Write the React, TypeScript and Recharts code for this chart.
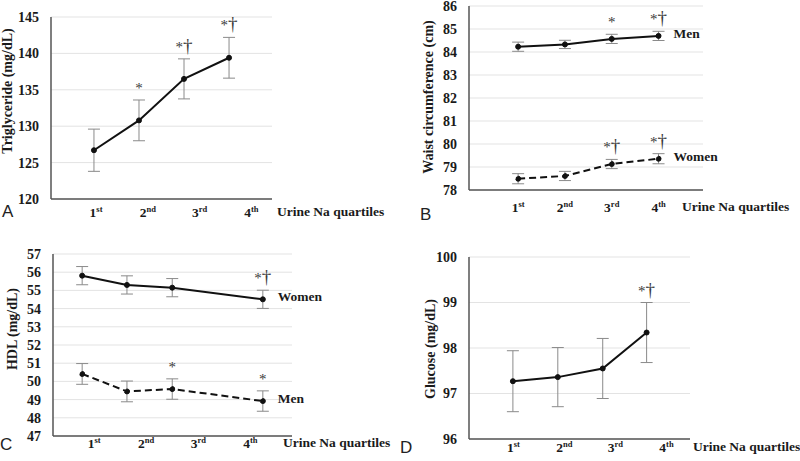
import React from "react";
import { CartesianGrid, ErrorBar, LabelList, Line, LineChart, XAxis, YAxis } from "recharts";

// quartile tick labels
const ordinals = ["1", "2", "3", "4"];
const suffixes = ["st", "nd", "rd", "th"];
const quartileTicks = [1, 2, 3, 4];

// A: triglyceride
const trigX = [0.96, 1.83, 2.7, 3.57];
const trigMean = [126.7, 130.8, 136.5, 139.4];
const trigErr = [2.9, 2.8, 2.75, 2.8];
const trigSig = ["", "*", "*†", "*†"];

// B: waist circumference
const waistX = [1, 2, 3, 4];
const waistMen = [84.23, 84.33, 84.57, 84.7];
const waistMenErr = [0.2, 0.18, 0.2, 0.2];
const waistMenSig = ["", "", "*", "*†"];
const waistWomen = [78.49, 78.61, 79.13, 79.36];
const waistWomenErr = [0.22, 0.2, 0.2, 0.22];
const waistWomenSig = ["", "", "*†", "*†"];

// C: HDL
const hdlX = [0.77, 1.63, 2.5, 4.24];
const hdlWomen = [55.81, 55.3, 55.15, 54.51];
const hdlWomenErr = [0.5, 0.5, 0.5, 0.5];
const hdlWomenSig = ["", "", "", "*†"];
const hdlMen = [50.41, 49.45, 49.58, 48.92];
const hdlMenErr = [0.57, 0.57, 0.56, 0.56];
const hdlMenSig = ["", "", "*", "*"];

// D: glucose
const gluX = [0.99, 1.87, 2.75, 3.61];
const gluMean = [97.27, 97.36, 97.55, 98.34];
const gluErr = [0.67, 0.65, 0.66, 0.66];
const gluSig = ["", "", "", "*†"];

const SERIF = "'Liberation Serif', 'Times New Roman', serif";
const SANS = "'Liberation Sans', Arial, sans-serif";
const INK = "#1a1a1a";

type Series = {
  key: string;
  mean: number[];
  err: number[];
  sig: string[];
  name?: string;
  dashed?: boolean;
};

type PanelProps = {
  left: number;
  top: number;
  height: number;
  plot: { l: number; t: number; r: number; b: number };
  xs: number[];
  xDomain: [number, number];
  yDomain: [number, number];
  yTicks: number[];
  series: Series[];
  tickDy: number;
};

const SigLabel = (props: any) => {
  const { x, y, value } = props;
  if (!value) return null;
  const txt = String(value);
  return (
    <text x={x} y={y - 7} textAnchor="middle" fill="#3a3a3a" fontFamily={SERIF}>
      <tspan fontSize={15}>{txt[0]}</tspan>
      {txt.length > 1 && <tspan fontSize={19}>{txt.slice(1)}</tspan>}
    </text>
  );
};

const TagLabel = (props: any) => {
  const { x, y, value } = props;
  if (!value) return null;
  return (
    <text x={x + 15} y={y + 2} fontSize={13.5} fontWeight="bold" fontFamily={SERIF} fill={INK}>
      {value}
    </text>
  );
};

function Panel({ left, top, height, plot, xs, xDomain, yDomain, yTicks, series, tickDy }: PanelProps) {
  const width = 400;
  const data = xs.map((x, i) => {
    const row: Record<string, number | string> = { x };
    series.forEach((s) => {
      row[s.key] = s.mean[i];
      row[s.key + "Err"] = s.err[i];
      row[s.key + "Top"] = s.mean[i] + s.err[i];
      row[s.key + "Sig"] = s.sig[i];
      row[s.key + "Tag"] = s.name && i === xs.length - 1 ? s.name : "";
    });
    return row;
  });

  const XTick = (p: any) => {
    const idx = quartileTicks.indexOf(p.payload.value);
    return (
      <text
        x={p.x}
        y={p.y + tickDy + 4.5}
        textAnchor="middle"
        fontFamily={SERIF}
        fontWeight="bold"
        fill={INK}
      >
        <tspan fontSize={13.5}>{ordinals[idx]}</tspan>
        <tspan fontSize={8.5} dy={-5}>
          {suffixes[idx]}
        </tspan>
      </text>
    );
  };

  return (
    <div style={{ position: "absolute", left, top }}>
      <LineChart
        width={width}
        height={height}
        data={data}
        margin={{ top: plot.t, right: width - plot.r, left: 0, bottom: height - plot.b - 30 }}
      >
        <CartesianGrid vertical={false} stroke="#e3e3e3" strokeWidth={1} />
        <XAxis
          dataKey="x"
          type="number"
          domain={xDomain}
          allowDataOverflow
          ticks={quartileTicks}
          interval={0}
          height={30}
          tickLine={false}
          tickSize={0}
          tickMargin={0}
          axisLine={{ stroke: "#555", strokeWidth: 1.5 }}
          tick={<XTick />}
        />
        <YAxis
          type="number"
          domain={yDomain}
          allowDataOverflow
          ticks={yTicks}
          interval={0}
          width={plot.l}
          tickLine={false}
          tickSize={0}
          tickMargin={12}
          axisLine={{ stroke: "#555", strokeWidth: 1.5 }}
          tick={{ fontSize: 14, fontWeight: "bold", fontFamily: SERIF, fill: INK }}
        />
        {series.map((s) => (
          <Line
            key={s.key}
            dataKey={s.key}
            type="linear"
            stroke="#111"
            strokeWidth={2}
            strokeDasharray={s.dashed ? "7 4" : undefined}
            dot={{ r: 2.5, fill: "#111", stroke: "#111", strokeWidth: 1 }}
            activeDot={false}
            isAnimationActive={false}
          >
            <ErrorBar dataKey={s.key + "Err"} direction="y" width={6} stroke="#8a8a8a" strokeWidth={1} />
            <LabelList dataKey={s.key + "Tag"} content={<TagLabel />} />
          </Line>
        ))}
        {series.map((s) => (
          <Line
            key={s.key + "Top"}
            dataKey={s.key + "Top"}
            stroke="none"
            dot={false}
            activeDot={false}
            isAnimationActive={false}
          >
            <LabelList dataKey={s.key + "Sig"} content={<SigLabel />} />
          </Line>
        ))}
      </LineChart>
    </div>
  );
}

export default function App() {
  return (
    <div
      style={{
        position: "absolute",
        left: 0,
        top: 0,
        width: 800,
        height: 461,
        background: "#fff",
        overflow: "hidden",
      }}
    >
      <Panel
        left={0}
        top={0}
        height={230}
        plot={{ l: 51, t: 17, r: 272, b: 199 }}
        xs={trigX}
        xDomain={[0.13, 4.4]}
        yDomain={[120, 145]}
        yTicks={[120, 125, 130, 135, 140, 145]}
        tickDy={13}
        series={[{ key: "trig", mean: trigMean, err: trigErr, sig: trigSig }]}
      />
      <Panel
        left={400}
        top={0}
        height={230}
        plot={{ l: 69, t: 6, r: 303, b: 190 }}
        xs={waistX}
        xDomain={[-0.05, 4.95]}
        yDomain={[78, 86]}
        yTicks={[78, 79, 80, 81, 82, 83, 84, 85, 86]}
        tickDy={17}
        series={[
          { key: "men", mean: waistMen, err: waistMenErr, sig: waistMenSig, name: "Men" },
          { key: "women", mean: waistWomen, err: waistWomenErr, sig: waistWomenSig, name: "Women", dashed: true },
        ]}
      />
      <Panel
        left={0}
        top={230}
        height={231}
        plot={{ l: 53, t: 24, r: 292, b: 206 }}
        xs={hdlX}
        xDomain={[0.21, 4.8]}
        yDomain={[47, 57]}
        yTicks={[47, 48, 49, 50, 51, 52, 53, 54, 55, 56, 57]}
        tickDy={7}
        series={[
          { key: "women", mean: hdlWomen, err: hdlWomenErr, sig: hdlWomenSig, name: "Women" },
          { key: "men", mean: hdlMen, err: hdlMenErr, sig: hdlMenSig, name: "Men", dashed: true },
        ]}
      />
      <Panel
        left={400}
        top={230}
        height={231}
        plot={{ l: 69, t: 27, r: 290, b: 209 }}
        xs={gluX}
        xDomain={[0.13, 4.46]}
        yDomain={[96, 100]}
        yTicks={[96, 97, 98, 99, 100]}
        tickDy={8}
        series={[{ key: "glu", mean: gluMean, err: gluErr, sig: gluSig }]}
      />
      <svg
        width={800}
        height={461}
        style={{ position: "absolute", left: 0, top: 0, pointerEvents: "none" }}
      >
        <g fontFamily={SERIF} fontWeight="bold" fontSize={14} fill={INK} style={{ whiteSpace: "pre" }}>
          <text transform="translate(7,91) rotate(-90)" textAnchor="middle" dominantBaseline="central">
            {"Triglyceride  (mg/dL)"}
          </text>
          <text transform="translate(428,97) rotate(-90)" textAnchor="middle" dominantBaseline="central">
            {"Waist  circumference  (cm)"}
          </text>
          <text transform="translate(12,329) rotate(-90)" textAnchor="middle" dominantBaseline="central">
            {"HDL (mg/dL)"}
          </text>
          <text transform="translate(430,349) rotate(-90)" textAnchor="middle" dominantBaseline="central">
            {"Glucose (mg/dL)"}
          </text>
        </g>
        <g fontFamily={SERIF} fontWeight="bold" fontSize={13.5} fill={INK} style={{ whiteSpace: "pre" }}>
          <text x={277} y={216}>{"Urine  Na  quartiles"}</text>
          <text x={682} y={211}>{"Urine  Na  quartiles"}</text>
          <text x={283} y={447}>{"Urine  Na  quartiles"}</text>
          <text x={693} y={451}>{"Urine  Na  quartiles"}</text>
        </g>
        <g fontFamily={SANS} fontSize={17} fill="#222">
          <text x={2} y={217}>A</text>
          <text x={420} y={220}>B</text>
          <text x={0} y={450}>C</text>
          <text x={400} y={453}>D</text>
        </g>
      </svg>
    </div>
  );
}
